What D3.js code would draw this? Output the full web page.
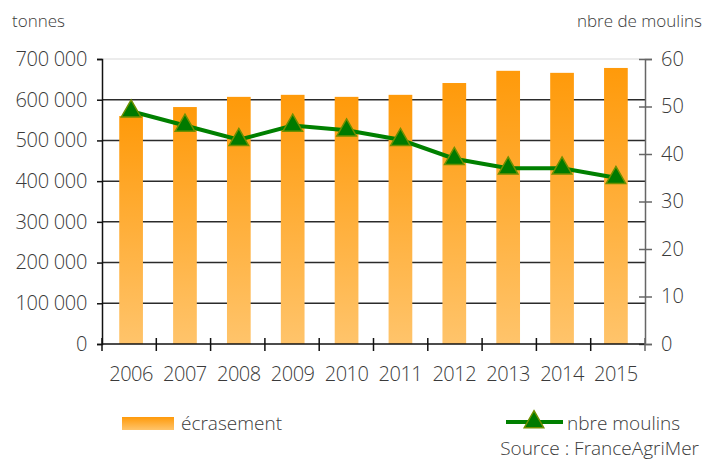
<!DOCTYPE html>
<html lang="fr">
<head>
  <meta charset="UTF-8">
  <title>Écrasement et nombre de moulins</title>
  <script src="https://d3js.org/d3.v7.min.js"></script>
  <style>
    body { margin: 0; background: #fff; }
    svg text { font-family: "Open Sans", sans-serif; font-weight: 300; fill: #3a3a3a; }
  </style>
</head>
<body>
<div id="chart"></div>
<script>
// Data
const years = ["2006", "2007", "2008", "2009", "2010", "2011", "2012", "2013", "2014", "2015"];
const crushing = [560000, 582000, 607000, 612000, 607000, 612000, 641000, 671000, 666000, 678000];
const mills = [49, 46, 43, 46, 45, 43, 39, 37, 37, 35];
const leftTicks = [0, 100000, 200000, 300000, 400000, 500000, 600000, 700000];
const rightTicks = [0, 10, 20, 30, 40, 50, 60];

const W = 704, H = 461;
const margin = { top: 59, right: 59, bottom: 117, left: 102 };
const width = W - margin.left - margin.right;
const height = H - margin.top - margin.bottom;

const svg = d3.select("#chart").append("svg")
  .attr("width", W)
  .attr("height", H);

// gradient for bars
const defs = svg.append("defs");
const grad = defs.append("linearGradient")
  .attr("id", "barGrad")
  .attr("x1", 0).attr("y1", 0).attr("x2", 0).attr("y2", 1);
grad.append("stop").attr("offset", "0%").attr("stop-color", "#ff9a0a");
grad.append("stop").attr("offset", "100%").attr("stop-color", "#ffc46b");

const g = svg.append("g")
  .attr("transform", `translate(${margin.left},${margin.top})`);

const x = d3.scaleBand()
  .domain(years)
  .range([0, width])
  .paddingInner(0.56)
  .paddingOuter(0.32);

const yL = d3.scaleLinear().domain([0, 700000]).range([height, 0]);
const yR = d3.scaleLinear().domain([0, 60]).range([height, 0]);

// gridlines
g.selectAll(".grid")
  .data(leftTicks.filter(d => d > 0))
  .enter().append("line")
  .attr("x1", 0)
  .attr("x2", width)
  .attr("y1", d => yL(d))
  .attr("y2", d => yL(d))
  .attr("stroke", d => d === 700000 ? "#e6e6e6" : "#2b2b2b")
  .attr("stroke-width", 1.5);

// bars
g.selectAll(".bar")
  .data(crushing)
  .enter().append("rect")
  .attr("x", (d, i) => x(years[i]))
  .attr("width", x.bandwidth())
  .attr("y", d => yL(d))
  .attr("height", d => height - yL(d))
  .attr("fill", "url(#barGrad)");

// left axis
const fmt = d => d === 0 ? "0" : d3.format(",")(d).replace(/,/g, " ");
const axL = g.append("g")
  .call(d3.axisLeft(yL).tickValues(leftTicks).tickFormat(fmt).tickSize(5).tickPadding(10));
axL.select(".domain").attr("stroke", "#111").attr("stroke-width", 1.5);
axL.selectAll(".tick line").attr("stroke", "#111").attr("stroke-width", 1.5);
axL.selectAll("text").style("font-size", "20px").attr("fill", "#3a3a3a").attr("letter-spacing", "-0.3");

// right axis
const axR = g.append("g")
  .attr("transform", `translate(${width},0)`)
  .call(d3.axisRight(yR).tickValues(rightTicks).tickSize(7).tickPadding(9));
axR.select(".domain").attr("stroke", "#666").attr("stroke-width", 1.5);
axR.selectAll(".tick line").attr("stroke", "#666").attr("stroke-width", 1.5).attr("x1", -6);
axR.selectAll("text").style("font-size", "20px").attr("fill", "#3a3a3a");

// bottom axis baseline with crossing ticks at band boundaries
const axB = g.append("g").attr("transform", `translate(0,${height})`);
axB.append("line")
  .attr("x1", 0).attr("x2", width)
  .attr("stroke", "#111").attr("stroke-width", 1.5);
const step = width / years.length;
axB.selectAll(".bt")
  .data(d3.range(years.length + 1))
  .enter().append("line")
  .attr("x1", i => i * step).attr("x2", i => i * step)
  .attr("y1", -6).attr("y2", 7)
  .attr("stroke", i => i === years.length ? "#666" : "#111")
  .attr("stroke-width", 1.5);
axB.selectAll(".yl")
  .data(years)
  .enter().append("text")
  .attr("x", d => x(d) + x.bandwidth() / 2)
  .attr("y", 37)
  .attr("text-anchor", "middle")
  .style("font-size", "20px")
  .attr("letter-spacing", "-0.5")
  .text(d => d);

// line series
const line = d3.line()
  .x((d, i) => x(years[i]) + x.bandwidth() / 2)
  .y(d => yR(d));
g.append("path")
  .datum(mills)
  .attr("d", line)
  .attr("fill", "none")
  .attr("stroke", "#008000")
  .attr("stroke-width", 4);

const tri = d3.symbol().type(d3.symbolTriangle).size(165);
g.selectAll(".mk")
  .data(mills)
  .enter().append("path")
  .attr("d", tri)
  .attr("transform", (d, i) => `translate(${x(years[i]) + x.bandwidth() / 2},${yR(d)})`)
  .attr("fill", "#007a00")
  .attr("stroke", "#6f8f00")
  .attr("stroke-width", 1.5);

// axis titles
svg.append("text").attr("x", 12).attr("y", 27)
  .style("font-size", "17px").attr("fill", "#555").text("tonnes");
svg.append("text").attr("x", 702).attr("y", 27).attr("text-anchor", "end")
  .style("font-size", "17px").attr("fill", "#555").text("nbre de moulins");

// legend
svg.append("rect")
  .attr("x", 122).attr("y", 417).attr("width", 52).attr("height", 13)
  .attr("fill", "url(#barGrad)");
svg.append("text").attr("x", 181).attr("y", 430)
  .style("font-size", "19px").text("écrasement");

svg.append("line")
  .attr("x1", 506).attr("x2", 563).attr("y1", 422).attr("y2", 422)
  .attr("stroke", "#008000").attr("stroke-width", 4);
svg.append("path")
  .attr("d", tri)
  .attr("transform", "translate(534,422)")
  .attr("fill", "#007a00")
  .attr("stroke", "#6f8f00")
  .attr("stroke-width", 1.5);
svg.append("text").attr("x", 567).attr("y", 430)
  .style("font-size", "19px").text("nbre moulins");

svg.append("text").attr("x", 699).attr("y", 455).attr("text-anchor", "end")
  .style("font-size", "19px").text("Source : FranceAgriMer");
</script>
</body>
</html>
